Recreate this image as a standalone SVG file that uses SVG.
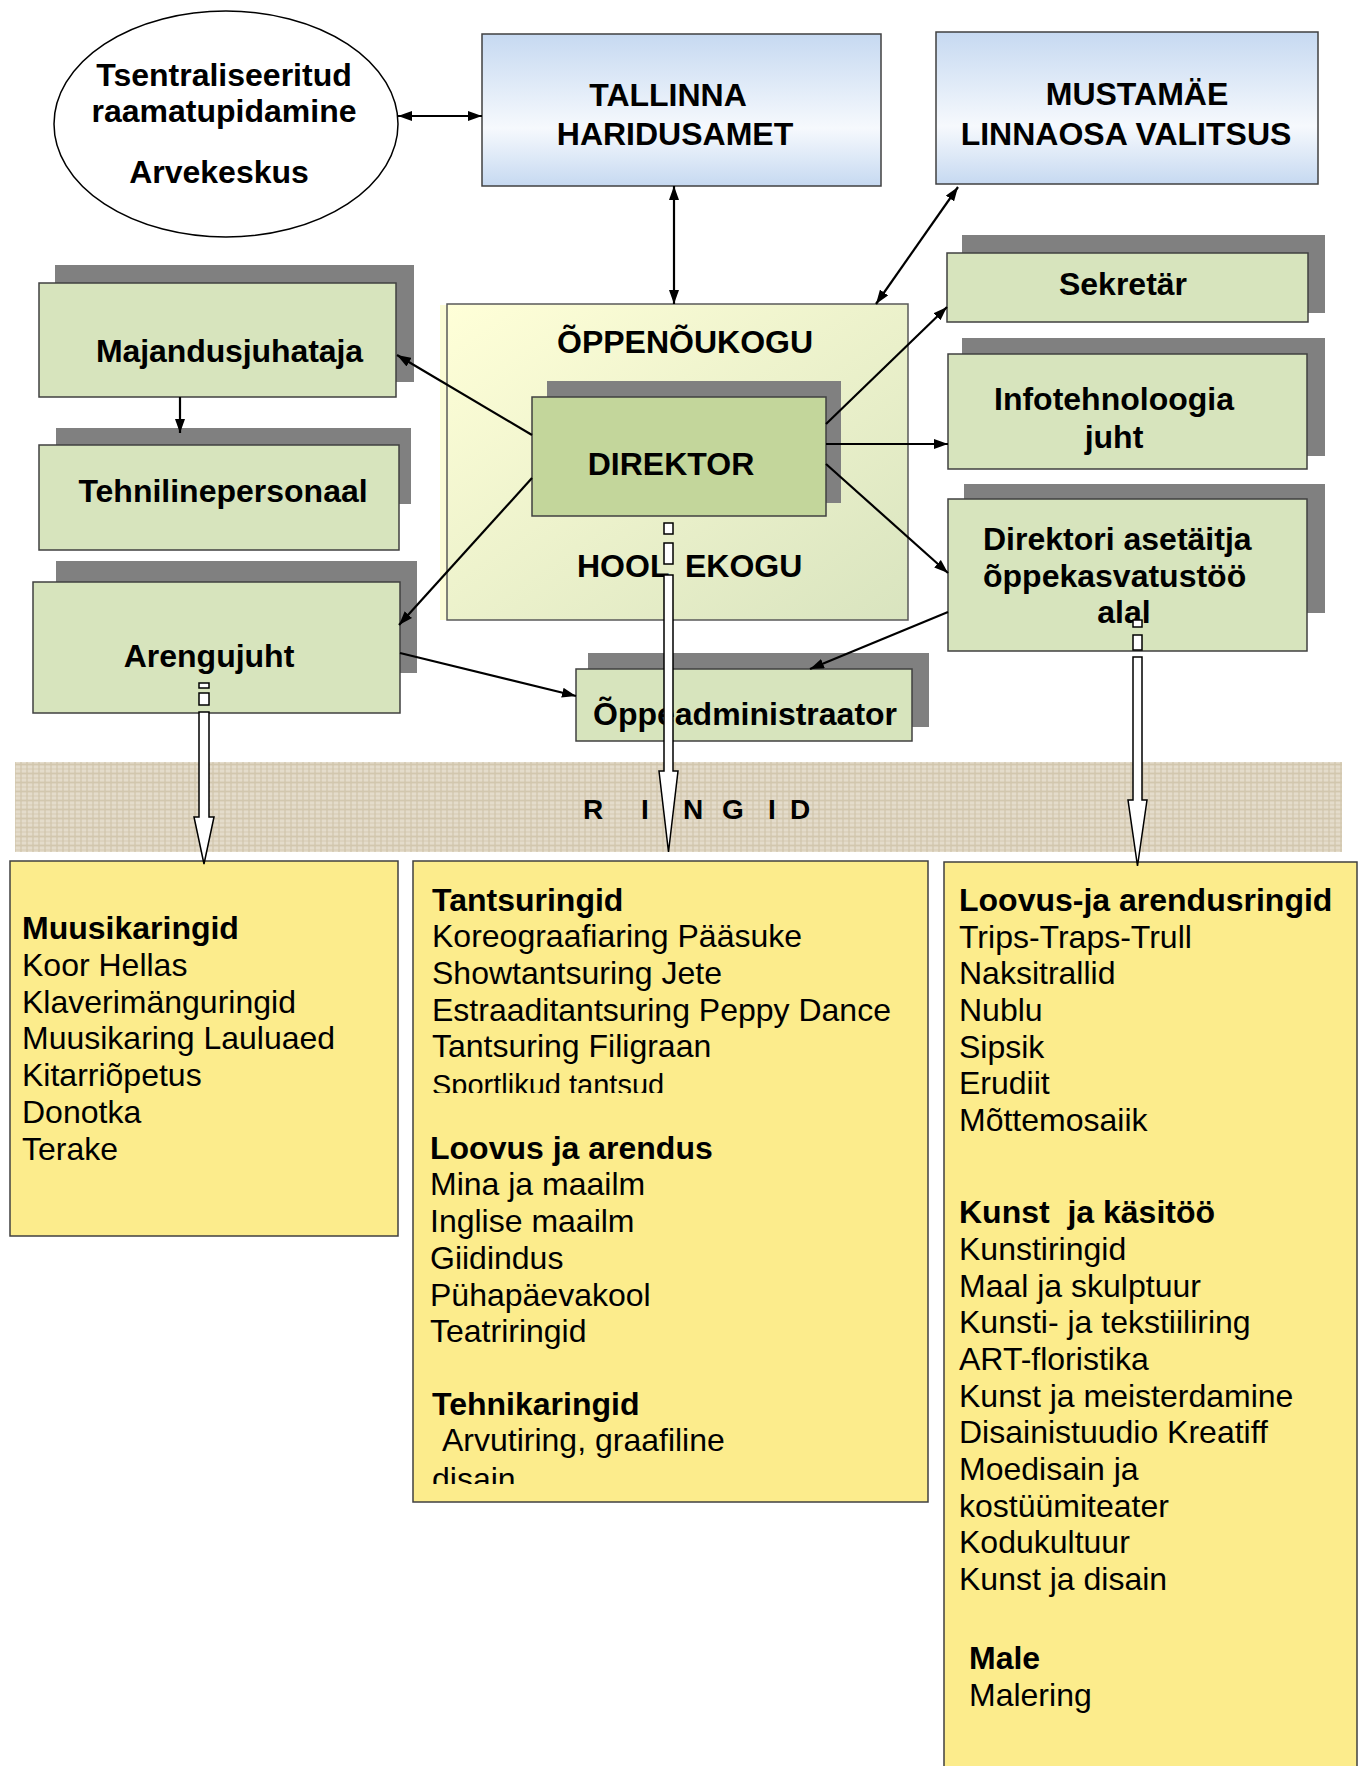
<svg xmlns="http://www.w3.org/2000/svg" width="1362" height="1766" viewBox="0 0 1362 1766">
<defs>
<style>
text{font-family:"Liberation Sans",Arial,sans-serif;fill:#000}
.b{font-weight:bold;font-size:32px}
.r{font-size:32px}
.m{text-anchor:middle}
.box{fill:#d7e4bd;stroke:#404040;stroke-width:1.5}
.dir{fill:#c3d69b;stroke:#404040;stroke-width:1.5}
.sh{fill:#808080}
.yel{fill:#fcec8c;stroke:#404040;stroke-width:1.5}
.blue{fill:url(#blue);stroke:#404040;stroke-width:1.5}
.c{stroke:#000;stroke-width:2.2;fill:none;marker-end:url(#ah)}
.d{marker-start:url(#ah)}
.wa{fill:#fff;stroke:#000;stroke-width:1.5}
</style>
<linearGradient id="blue" x1="0" y1="0" x2="0" y2="1">
<stop offset="0" stop-color="#c6d9f1"/><stop offset="0.62" stop-color="#f6f9fd"/><stop offset="1" stop-color="#c6d9f1"/>
</linearGradient>
<linearGradient id="council" x1="0" y1="0" x2="1" y2="1">
<stop offset="0" stop-color="#ffffd8"/><stop offset="1" stop-color="#d9e4bf"/>
</linearGradient>
<pattern id="tex" width="12" height="9" patternUnits="userSpaceOnUse">
<rect width="12" height="9" fill="#ddd3bf"/>
<path d="M0 2H12M0 6H12" stroke="#ebe5d7" stroke-width="1"/>
<path d="M3 0V9M9 0V9" stroke="#cdc1a6" stroke-width="1"/>
<path d="M0 8.5H12" stroke="#d2c7ae" stroke-width="1"/>
</pattern>
<marker id="ah" viewBox="0 0 14 10" refX="14" refY="5" markerWidth="14" markerHeight="10" markerUnits="userSpaceOnUse" orient="auto-start-reverse">
<path d="M0,0L14,5L0,10z" fill="#000"/>
</marker>
<clipPath id="clipA"><rect x="413" y="861" width="515" height="232"/></clipPath>
<clipPath id="clipB"><rect x="413" y="1380" width="515" height="104"/></clipPath>
</defs>

<rect width="1362" height="1766" fill="#fff"/>

<g id="arvekeskus">
<ellipse cx="226" cy="124" rx="172" ry="113" fill="#fff" stroke="#000" stroke-width="1.5"/>
<text class="b m" x="224" y="86">Tsentraliseeritud</text>
<text class="b m" x="224" y="122">raamatupidamine</text>
<text class="b m" x="219" y="183">Arvekeskus</text>
</g>

<g id="haridusamet">
<rect class="blue" x="482" y="34" width="399" height="152"/>
<text class="b m" x="668" y="106">TALLINNA</text>
<text class="b m" x="675" y="145">HARIDUSAMET</text>
</g>

<g id="mustamae">
<rect class="blue" x="936" y="32" width="382" height="152"/>
<text class="b m" x="1137" y="105">MUSTAMÄE</text>
<text class="b m" x="1126" y="145">LINNAOSA VALITSUS</text>
</g>

<g id="oppenoukogu">
<rect x="440" y="305" width="8" height="315" fill="#fbfbd5"/>
<rect x="447" y="304" width="461" height="316" fill="url(#council)" stroke="#595959" stroke-width="1.5"/>
<text class="b m" x="685" y="353">ÕPPENÕUKOGU</text>
<text class="b"><tspan x="577" y="577">HOOL</tspan><tspan x="685" y="577">EKOGU</tspan></text>
</g>

<g id="direktor">
<rect class="sh" x="547" y="381" width="294" height="122"/>
<rect class="dir" x="532" y="397" width="294" height="119"/>
<text class="b m" x="671" y="475">DIREKTOR</text>
</g>

<g id="majandusjuhataja">
<rect class="sh" x="55" y="265" width="359" height="117"/>
<rect class="box" x="39" y="283" width="357" height="114"/>
<text class="b" x="96" y="362" textLength="267" lengthAdjust="spacing">Majandusjuhataja</text>
</g>

<g id="tehnilinepersonaal">
<rect class="sh" x="56" y="428" width="355" height="76"/>
<rect class="box" x="39" y="445" width="360" height="105"/>
<text class="b m" x="223" y="502">Tehnilinepersonaal</text>
</g>

<g id="arengujuht">
<rect class="sh" x="56" y="561" width="361" height="112"/>
<rect class="box" x="33" y="582" width="367" height="131"/>
<text class="b m" x="209" y="667">Arengujuht</text>
</g>

<g id="sekretar">
<rect class="sh" x="962" y="235" width="363" height="78"/>
<rect class="box" x="947" y="253" width="361" height="69"/>
<text class="b m" x="1123" y="295">Sekretär</text>
</g>

<g id="infotehnoloogia">
<rect class="sh" x="962" y="338" width="363" height="118"/>
<rect class="box" x="948" y="354" width="359" height="115"/>
<text class="b m" x="1114" y="410">Infotehnoloogia</text>
<text class="b m" x="1114" y="448">juht</text>
</g>

<g id="asetaitja">
<rect class="sh" x="964" y="484" width="361" height="129"/>
<rect class="box" x="948" y="499" width="359" height="152"/>
<text class="b" x="983" y="550">Direktori asetäitja</text>
<text class="b" x="983" y="587">õppekasvatustöö</text>
<text class="b m" x="1124" y="623">alal</text>
</g>

<g id="oppeadministraator">
<rect class="sh" x="588" y="653" width="341" height="74"/>
<rect class="box" x="576" y="669" width="336" height="72"/>
<text class="b" x="593" y="725">Õppeadministraator</text>
</g>

<g id="ringid">
<rect x="15" y="762" width="1327" height="90" fill="url(#tex)"/>
<text class="b" style="font-size:28px" y="819"><tspan x="583">R</tspan><tspan x="641">I</tspan><tspan x="683">N</tspan><tspan x="722">G</tspan><tspan x="768">I</tspan><tspan x="790">D</tspan></text>
</g>

<g id="muusikaringid">
<rect class="yel" x="10" y="861" width="388" height="375"/>
<text class="b" x="22" y="939">Muusikaringid</text>
<text class="r" x="22" y="976">Koor Hellas</text>
<text class="r" x="22" y="1013">Klaverimänguringid</text>
<text class="r" x="22" y="1049">Muusikaring Lauluaed</text>
<text class="r" x="22" y="1086">Kitarriõpetus</text>
<text class="r" x="22" y="1123">Donotka</text>
<text class="r" x="22" y="1160">Terake</text>
</g>

<g id="tantsuringid">
<rect class="yel" x="413" y="861" width="515" height="641"/>
<text class="b" x="432" y="911">Tantsuringid</text>
<text class="r" x="432" y="947">Koreograafiaring Pääsuke</text>
<text class="r" x="432" y="984">Showtantsuring Jete</text>
<text class="r" x="432" y="1021">Estraaditantsuring Peppy Dance</text>
<text class="r" x="432" y="1057">Tantsuring Filigraan</text>
<text class="r" x="432" y="1095" style="font-size:29px" clip-path="url(#clipA)">Sportlikud tantsud</text>
<text class="b" x="430" y="1159">Loovus ja arendus</text>
<text class="r" x="430" y="1195">Mina ja maailm</text>
<text class="r" x="430" y="1232">Inglise maailm</text>
<text class="r" x="430" y="1269">Giidindus</text>
<text class="r" x="430" y="1306">Pühapäevakool</text>
<text class="r" x="430" y="1342">Teatriringid</text>
<text class="b" x="432" y="1415">Tehnikaringid</text>
<text class="r" x="442" y="1451">Arvutiring, graafiline</text>
<text class="r" x="432" y="1490" clip-path="url(#clipB)">disain</text>
</g>

<g id="loovusringid">
<rect class="yel" x="944" y="862" width="413" height="910"/>
<text class="b" x="959" y="911">Loovus-ja arendusringid</text>
<text class="r" x="959" y="948">Trips-Traps-Trull</text>
<text class="r" x="959" y="984">Naksitrallid</text>
<text class="r" x="959" y="1021">Nublu</text>
<text class="r" x="959" y="1058">Sipsik</text>
<text class="r" x="959" y="1094">Erudiit</text>
<text class="r" x="959" y="1131">Mõttemosaiik</text>
<text class="b" x="959" y="1223" xml:space="preserve">Kunst  ja käsitöö</text>
<text class="r" x="959" y="1260">Kunstiringid</text>
<text class="r" x="959" y="1297">Maal ja skulptuur</text>
<text class="r" x="959" y="1333">Kunsti- ja tekstiiliring</text>
<text class="r" x="959" y="1370">ART-floristika</text>
<text class="r" x="959" y="1407">Kunst ja meisterdamine</text>
<text class="r" x="959" y="1443">Disainistuudio Kreatiff</text>
<text class="r" x="959" y="1480">Moedisain ja</text>
<text class="r" x="959" y="1517">kostüümiteater</text>
<text class="r" x="959" y="1553">Kodukultuur</text>
<text class="r" x="959" y="1590">Kunst ja disain</text>
<text class="b" x="969" y="1669">Male</text>
<text class="r" x="969" y="1706">Malering</text>
</g>

<g id="connectors">
<line class="c d" x1="398" y1="116" x2="482" y2="116"/>
<line class="c d" x1="674" y1="186" x2="674" y2="304"/>
<line class="c d" x1="958" y1="187" x2="876" y2="304"/>
<line class="c" x1="180" y1="397" x2="180" y2="433"/>
<line class="c" x1="532" y1="435" x2="397" y2="355"/>
<line class="c" x1="532" y1="478" x2="399" y2="625"/>
<line class="c" x1="400" y1="653" x2="576" y2="696"/>
<line class="c" x1="826" y1="424" x2="947" y2="307"/>
<line class="c" x1="826" y1="444" x2="948" y2="444"/>
<line class="c" x1="826" y1="464" x2="948" y2="573"/>
<line class="c" x1="948" y1="612" x2="810" y2="669"/>
<g id="arrow-left">
<rect class="wa" x="199" y="683" width="10" height="5"/>
<rect class="wa" x="199" y="693" width="10" height="12"/>
<path class="wa" d="M199,712V817H194L204,864L214,817H209V712Z"/>
</g>
<g id="arrow-mid">
<rect class="wa" x="664" y="523" width="9" height="11"/>
<rect class="wa" x="664" y="543" width="9" height="21"/>
<path class="wa" d="M664,575V771H659L668.5,852L678,771H673V575Z"/>
</g>
<g id="arrow-right">
<rect class="wa" x="1133" y="620" width="9" height="7"/>
<rect class="wa" x="1133" y="635" width="9" height="15"/>
<path class="wa" d="M1133,657V800H1128L1137.5,866L1147,800H1142V657Z"/>
</g>
</g>
</svg>
